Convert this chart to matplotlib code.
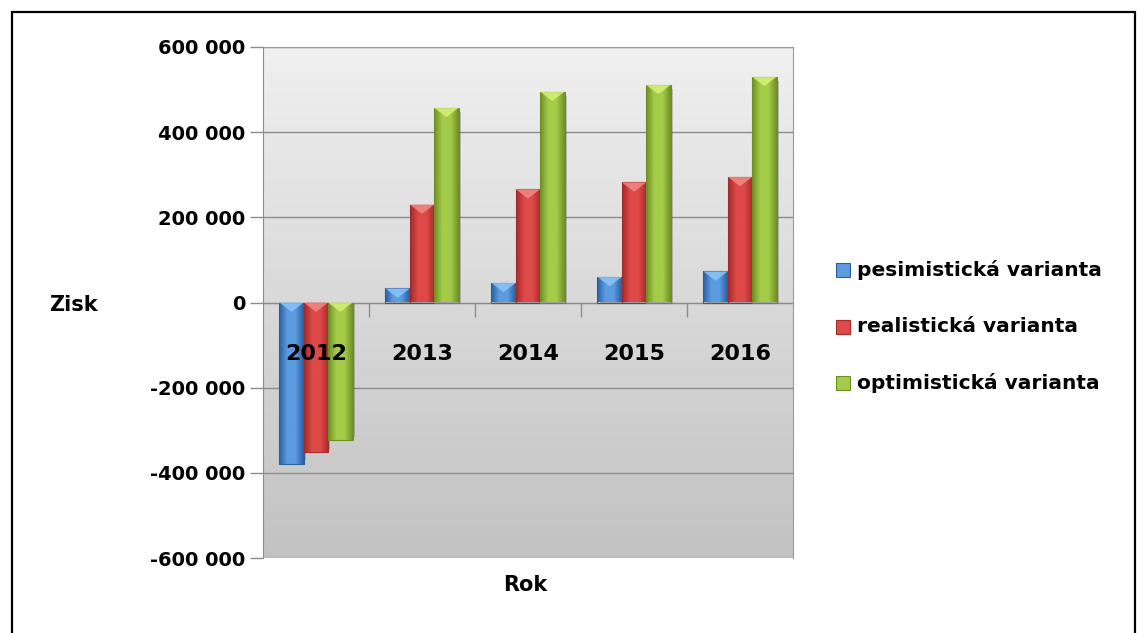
import numpy as np
import matplotlib
matplotlib.use("Agg")
import matplotlib.pyplot as plt
from matplotlib.patches import Rectangle, Polygon
from matplotlib.colors import LinearSegmentedColormap
from matplotlib.ticker import FuncFormatter, FixedLocator

plt.rcParams['font.family'] = ['DejaVu Sans']

# data
years = ['2012', '2013', '2014', '2015', '2016']
pesimisticka = [-379000, 33000, 46000, 60000, 73000]
realisticka = [-352000, 230000, 266000, 282000, 295000]
optimisticka = [-324000, 457000, 495000, 511000, 530000]
series_names = ['pesimistická varianta', 'realistická varianta', 'optimistická varianta']
y_ticks = [-600000, -400000, -200000, 0, 200000, 400000, 600000]

series = [pesimisticka, realisticka, optimisticka]
# (dark edge, light centre, top highlight)
colors = [('#2a5f9e', '#5b9be0', '#8cc4f5'),
          ('#a42a2a', '#dd4a48', '#f28a86'),
          ('#6f8f25', '#a4cc48', '#d6f07a')]

fig = plt.figure(figsize=(11.47, 6.33), dpi=100)
fig.patch.set_facecolor('white')

# outer frame
fig.add_artist(Rectangle((12 / 1147, -0.01), 1123 / 1147, 1 - 12 / 633 + 0.01,
                         transform=fig.transFigure, fill=False, ec='black', lw=1.6))

ax = fig.add_axes([263 / 1147, 1 - 558 / 633, 530 / 1147, 511 / 633])
ax.set_xlim(-0.5, len(years) - 0.5)
ax.set_ylim(-600000, 600000)

# plot area background gradient
bg = LinearSegmentedColormap.from_list('bg', ['#c2c2c2', '#f0f0f0'])
ax.imshow(np.linspace(0, 1, 256).reshape(-1, 1), cmap=bg, aspect='auto',
          extent=[-0.5, len(years) - 0.5, -600000, 600000], origin='lower', zorder=0)

for yv in y_ticks:
    ax.axhline(yv, color='#8c8c8c', lw=1.0, zorder=1)

bw = 0.23
x = np.arange(len(years))
offsets = [-bw, 0, bw]
for vals, off, (dark, light, hi) in zip(series, offsets, colors):
    cmap = LinearSegmentedColormap.from_list('c', [dark, light, light, dark])
    grad = np.linspace(0, 1, 64).reshape(1, -1)
    for xi, v in zip(x, vals):
        x0 = xi + off - bw / 2
        # shadow
        sh = Rectangle((x0 + 0.02, 0), bw, v - 9000 * np.sign(v), color='#00000030', lw=0, zorder=2)
        ax.add_patch(sh)
        rect = Rectangle((x0, 0), bw, v, fc='none', ec=dark, lw=0.8, zorder=4)
        ax.add_patch(rect)
        im = ax.imshow(grad, cmap=cmap, aspect='auto', extent=[x0, x0 + bw, min(0, v), max(0, v)],
                       zorder=3)
        im.set_clip_path(rect)
        tri_h = 22000
        top = v if v > 0 else 0
        tri = Polygon([[x0, top], [x0 + bw, top], [x0 + bw / 2, top - tri_h]],
                      closed=True, fc=hi, ec='none', alpha=0.85, zorder=4)
        ax.add_patch(tri)

ax.set_xlim(-0.5, len(years) - 0.5)
ax.set_ylim(-600000, 600000)

# axes styling
for s in ['top', 'right']:
    ax.spines[s].set_color('#9a9a9a')
ax.spines['left'].set_color('#8c8c8c')
ax.spines['bottom'].set_position(('data', 0))
ax.spines['bottom'].set_color('#8c8c8c')

ax.yaxis.set_major_locator(FixedLocator(y_ticks))
ax.yaxis.set_major_formatter(FuncFormatter(lambda v, p: ('-' if v < 0 else '') + f"{abs(int(v)):,}".replace(',', ' ')))
ax.tick_params(axis='y', length=9.5, width=1, color='#8c8c8c', pad=3, labelsize=14)
for lab in ax.get_yticklabels():
    lab.set_fontweight('bold')

# category labels sit on top of the bars
ax.set_xticks(x)
ax.set_xticklabels([])
ax.tick_params(axis='x', which='major', length=0)
ax.set_xticks(np.arange(0.5, len(years) - 1, 1), minor=True)
ax.tick_params(axis='x', which='minor', length=10, width=1, color='#8c8c8c', direction='out')
for xi, yr in zip(x, years):
    ax.text(xi, -122000, yr, ha='center', va='center', fontsize=16, fontweight='bold', zorder=10)

fig.text(73 / 1147, 1 - 305 / 633, 'Zisk', ha='center', va='center', fontsize=15, fontweight='bold')
fig.text(525 / 1147, 1 - 585 / 633, 'Rok', ha='center', va='center', fontsize=15, fontweight='bold')

# legend
leg_y = [270, 327, 383]
for name, (dark, light, hi), ly in zip(series_names, colors, leg_y):
    fig.add_artist(Rectangle((836 / 1147, 1 - (ly + 7) / 633), 14 / 1147, 14 / 633,
                             transform=fig.transFigure, fc=light, ec=dark, lw=0.8))
    fig.text(857 / 1147, 1 - ly / 633, name, ha='left', va='center', fontsize=14.5, fontweight='bold')

fig.savefig('out.png', dpi=100)
